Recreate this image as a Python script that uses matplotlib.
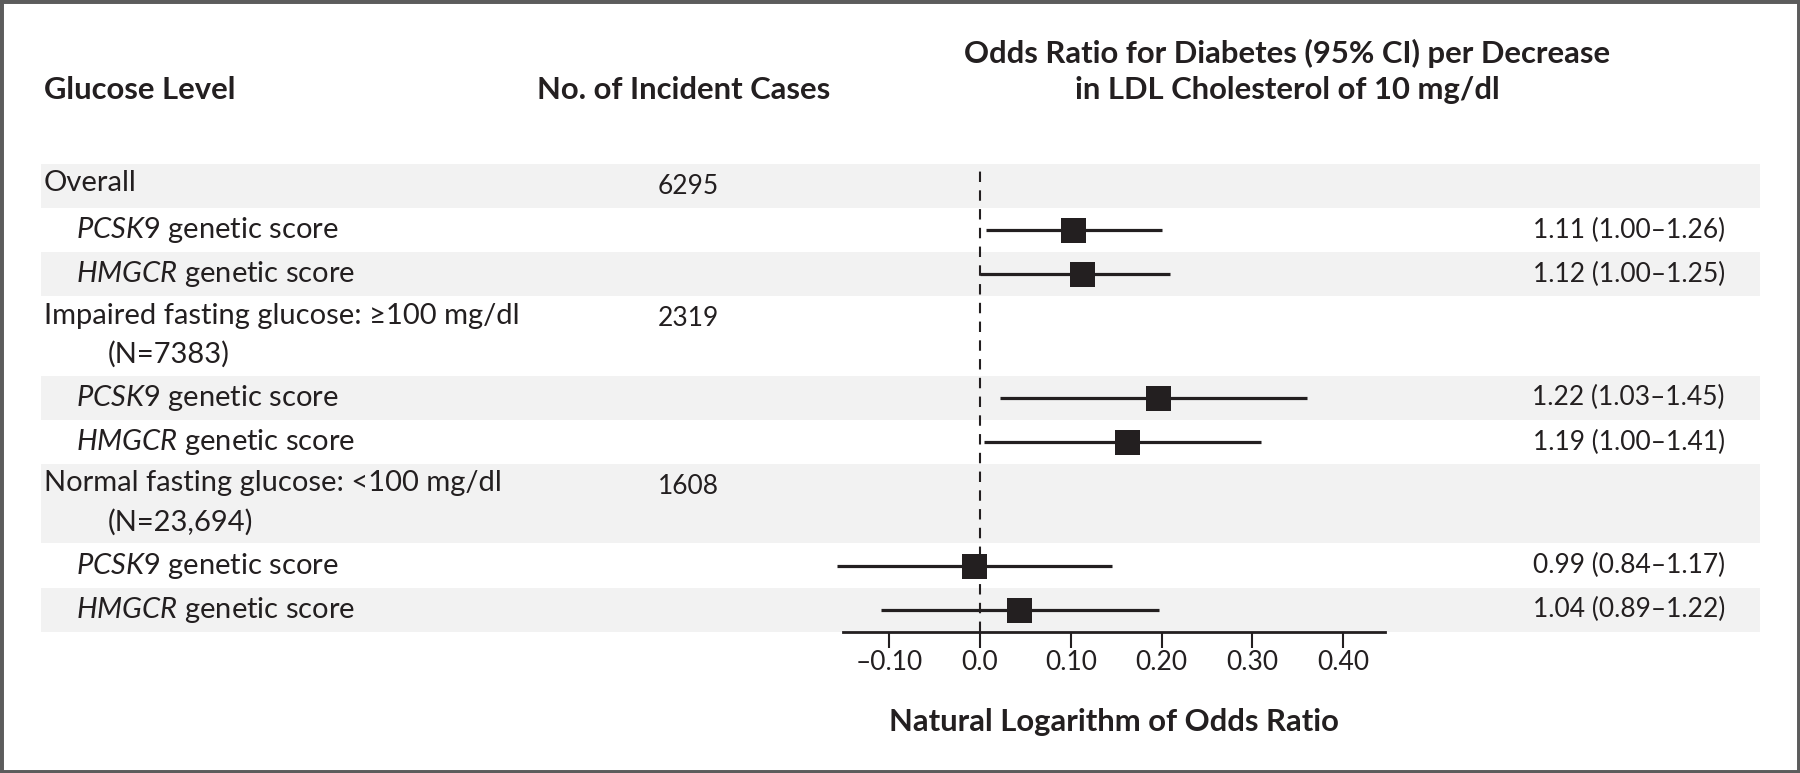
import matplotlib
matplotlib.use("Agg")
import matplotlib.pyplot as plt
import matplotlib.transforms as mtransforms
from matplotlib.patches import Rectangle

# data
groups = ["Overall", "Impaired fasting glucose: \u2265100 mg/dl", "Normal fasting glucose: <100 mg/dl"]
group_n = ["", "(N=7383)", "(N=23,694)"]
cases = ["6295", "2319", "1608"]
genes = ["PCSK9", "HMGCR"]
log_or = [0.103, 0.112, 0.196, 0.162, -0.007, 0.043]
ci_lo = [0.007, 0.000, 0.022, 0.004, -0.158, -0.109]
ci_hi = [0.200, 0.209, 0.360, 0.310, 0.145, 0.197]
or_text = ["1.11 (1.00\u20131.26)", "1.12 (1.00\u20131.25)", "1.22 (1.03\u20131.45)",
           "1.19 (1.00\u20131.41)", "0.99 (0.84\u20131.17)", "1.04 (0.89\u20131.22)"]
xticks = [-0.10, 0.0, 0.10, 0.20, 0.30, 0.40]
xtick_labels = ["\u20130.10", "0.0", "0.10", "0.20", "0.30", "0.40"]

plt.rcParams['font.family'] = ['Lato', 'DejaVu Sans']
plt.rcParams['mathtext.fontset'] = 'custom'
plt.rcParams['mathtext.it'] = 'Lato:italic'
plt.rcParams['mathtext.rm'] = 'Lato'

W, H = 1800, 773
ink = '#231f20'
fs_lab = 21     # row labels
fs_num = 19     # numbers
fs_head = 22.3  # bold headers

fig = plt.figure(figsize=(W / 100, H / 100), dpi=100)

def fx(px):
    return px / W

def fy(py):
    return 1 - py / H

# row layout (group rows with two lines are taller)
heights = []
for g in range(3):
    heights.append(1.0 if group_n[g] == "" else 1.8)
    heights += [1.0, 1.0]
tops = []
t = 0
for h in heights:
    tops.append(t)
    t += h
total = t

top_px, bot_px = 164, 631.7
ax = fig.add_axes([0, fy(bot_px), 1, (bot_px - top_px) / H])
zero_px, ppu = 980, 907.5
ax.set_xlim(-zero_px / ppu, (W - zero_px) / ppu)
ax.set_ylim(total, 0)

for i, (tp, h) in enumerate(zip(tops, heights)):
    if i % 2 == 0:
        ax.axhspan(tp, tp + h, xmin=fx(41), xmax=fx(1760), color='#f2f2f2', lw=0, zorder=0)

ax.axvline(0, ymin=0, ymax=1, color=ink, lw=1.5, ls=(0, (5, 4)), zorder=1)

ys = []
for g in range(3):
    ys += [tops[3 * g + 1] + 0.5, tops[3 * g + 2] + 0.5]
ax.hlines(ys, ci_lo, ci_hi, color=ink, lw=2.3, zorder=2)
ax.plot(log_or, ys, 's', color=ink, ms=18, mew=0, zorder=3)

for s in ['top', 'left', 'right']:
    ax.spines[s].set_visible(False)
ax.spines['bottom'].set_bounds(-0.151, 0.446)
ax.spines['bottom'].set_linewidth(2)
ax.spines['bottom'].set_color(ink)
ax.set_yticks([])
ax.set_xticks(xticks)
ax.set_xticklabels(xtick_labels, fontsize=fs_num, color=ink)
ax.tick_params(axis='x', direction='out', length=11.5, width=1.5, color=ink, pad=2)
ax.patch.set_alpha(0)

# text columns
tr = mtransforms.blended_transform_factory(fig.transFigure, ax.transData)
for g in range(3):
    tg = tops[3 * g]
    ax.text(fx(44), tg + 0.44, groups[g], transform=tr, fontsize=fs_lab, color=ink, va='center', ha='left')
    if group_n[g]:
        ax.text(fx(108), tg + 1.31, group_n[g], transform=tr, fontsize=fs_lab, color=ink, va='center', ha='left')
    ax.text(fx(688), tg + 0.5, cases[g], transform=tr, fontsize=fs_num, color=ink, va='center', ha='center')
    for k in range(2):
        idx = 2 * g + k
        ax.text(fx(76), ys[idx], r"$\mathit{%s}$ genetic score" % genes[k], transform=tr,
                fontsize=fs_lab, color=ink, va='center', ha='left')
        ax.text(fx(1725), ys[idx], or_text[idx], transform=tr, fontsize=fs_num, color=ink,
                va='center', ha='right')

# headers
fig.text(fx(44), fy(90), "Glucose Level", fontsize=fs_head, fontweight='bold', color=ink, va='center', ha='left')
fig.text(fx(684), fy(90), "No. of Incident Cases", fontsize=fs_head, fontweight='bold', color=ink, va='center', ha='center')
fig.text(fx(1287), fy(71), "Odds Ratio for Diabetes (95% CI) per Decrease\nin LDL Cholesterol of 10 mg/dl",
         fontsize=fs_head, fontweight='bold', color=ink, va='center', ha='center', linespacing=1.35)
fig.text(fx(1114), fy(722), "Natural Logarithm of Odds Ratio", fontsize=fs_head, fontweight='bold',
         color=ink, va='center', ha='center')

fig.patches.append(Rectangle((0, 0), 1, 1, transform=fig.transFigure, fill=False,
                             edgecolor='#5c5c5c', lw=5))

fig.savefig("out.png", dpi=100, facecolor='white')
